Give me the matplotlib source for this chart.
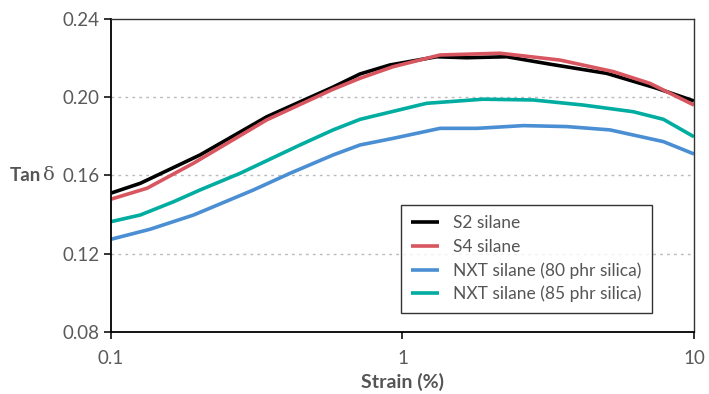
import numpy as np
import matplotlib.pyplot as plt
from matplotlib.ticker import FixedLocator, NullLocator

plt.rcParams['font.family'] = ['Lato', 'DejaVu Sans']

# Data (strain %, tan delta)
s2_x = [0.10, 0.126, 0.202, 0.342, 0.578, 0.715, 0.906, 1.31, 1.66, 2.28, 3.21, 5.02, 7.45, 10.0]
s2_y = [0.151, 0.156, 0.1705, 0.190, 0.2052, 0.2119, 0.2165, 0.2207, 0.2202, 0.2207, 0.2169, 0.2122, 0.2046, 0.1981]

s4_x = [0.10, 0.133, 0.192, 0.342, 0.578, 0.715, 0.928, 1.345, 2.16, 3.47, 5.29, 7.06, 10.0]
s4_y = [0.1479, 0.1535, 0.1663, 0.1884, 0.2041, 0.2097, 0.2156, 0.2216, 0.2225, 0.219, 0.2131, 0.2071, 0.196]

nxt80_x = [0.10, 0.136, 0.192, 0.308, 0.411, 0.578, 0.715, 0.93, 1.345, 1.80, 2.60, 3.66, 5.15, 6.19, 7.86, 10.0]
nxt80_y = [0.1274, 0.1325, 0.1398, 0.1526, 0.1611, 0.1705, 0.1756, 0.179, 0.1841, 0.1841, 0.1855, 0.185, 0.1833, 0.1807, 0.1773, 0.171]

nxt85_x = [0.10, 0.126, 0.164, 0.202, 0.277, 0.445, 0.578, 0.715, 1.21, 1.89, 2.81, 4.17, 6.19, 7.86, 10.0]
nxt85_y = [0.1364, 0.1398, 0.1466, 0.1526, 0.1611, 0.1756, 0.1833, 0.1887, 0.1969, 0.199, 0.1986, 0.196, 0.1926, 0.1887, 0.1798]

labels = ['S2 silane', 'S4 silane', 'NXT silane (80 phr silica)', 'NXT silane (85 phr silica)']
colors = ['#000000', '#d8565f', '#4a8ed4', '#00ada0']

fig = plt.figure(figsize=(7.09, 3.94), dpi=100)
ax = fig.add_axes([0.1566, 0.1574, 0.8222, 0.7944])

for xs, ys, lab, c in zip([s2_x, s4_x, nxt80_x, nxt85_x], [s2_y, s4_y, nxt80_y, nxt85_y], labels, colors):
    ax.plot(xs, ys, color=c, lw=2.6, label=lab, solid_joinstyle='round', solid_capstyle='butt')

ax.set_xscale('log')
ax.set_xlim(0.1, 10)
ax.set_ylim(0.08, 0.24)
ax.xaxis.set_major_locator(FixedLocator([0.1, 1, 10]))
ax.xaxis.set_minor_locator(NullLocator())
ax.set_xticklabels(['0.1', '1', '10'])
ax.set_yticks([0.08, 0.12, 0.16, 0.20, 0.24])
ax.set_yticklabels(['0.08', '0.12', '0.16', '0.20', '0.24'])
ax.tick_params(colors='#111111', labelcolor='#5a5a5a', labelsize=13.5, length=5, width=1.2)
ax.tick_params(axis='x', pad=8)

for y in [0.12, 0.16, 0.20]:
    ax.axhline(y, color='#bbbbbb', lw=1, ls=(0, (2, 3)), zorder=0)

for side in ['left', 'bottom']:
    ax.spines[side].set_color('#000000')
    ax.spines[side].set_linewidth(1.3)
for side in ['top', 'right']:
    ax.spines[side].set_color('#333333')
    ax.spines[side].set_linewidth(1.0)

ax.set_xlabel('Strain (%)', fontsize=14, fontweight='bold', color='#555555', labelpad=4)
fig.text(0.014, 0.555, 'Tan', fontsize=13.5, fontweight='bold', color='#555555', va='center', ha='left')
fig.text(0.061, 0.555, 'δ', fontsize=14, color='#555555', va='center', ha='left', family='DejaVu Serif')

leg = ax.legend(loc='lower right', bbox_to_anchor=(0.928, 0.061), fontsize=12.5, frameon=True,
                fancybox=False, edgecolor='#000000', handlelength=1.6, labelspacing=0.42,
                borderpad=0.6, handletextpad=0.8, borderaxespad=0)
leg.get_frame().set_linewidth(1.0)
for t in leg.get_texts():
    t.set_color('#555555')

fig.savefig('out.png', dpi=100)
